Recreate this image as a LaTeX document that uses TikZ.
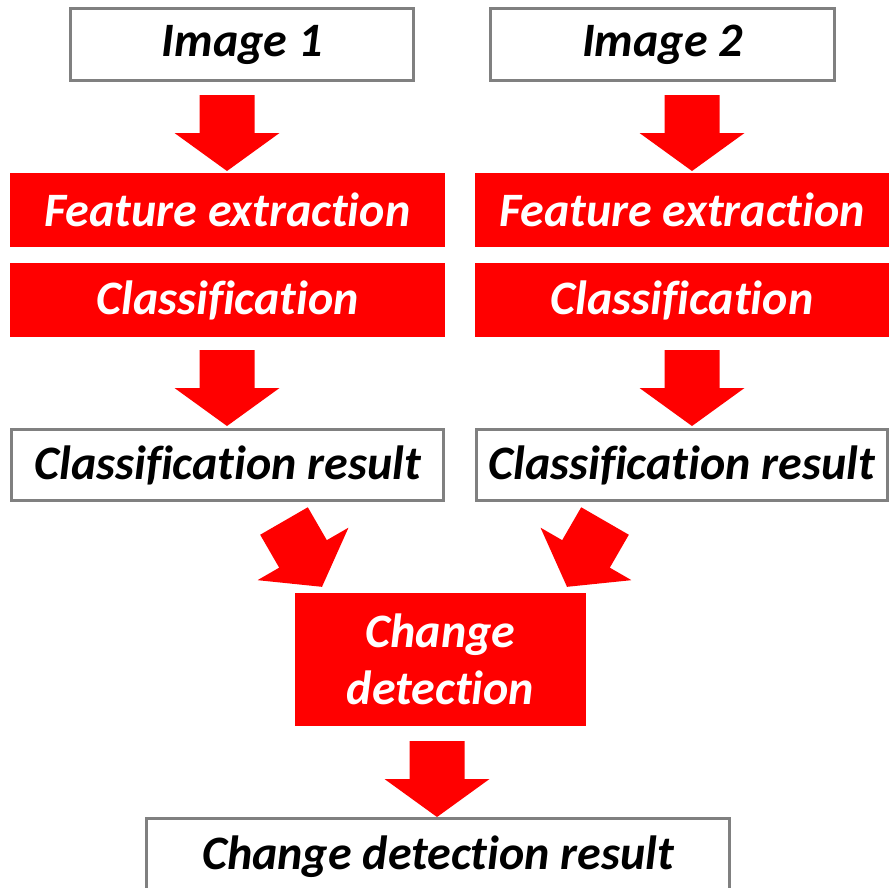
\documentclass[tikz,border=0pt]{standalone}
\usepackage{fontspec}
\setmainfont{Carlito}[Ligatures={NoCommon,NoRare,NoContextual}]
\definecolor{boxgray}{HTML}{808080}
\definecolor{arrowred}{HTML}{FF0000}
\begin{document}
\begin{tikzpicture}[x=1pt,y=-1pt,
  base/.style={inner sep=0pt, outer sep=0pt, align=center,
    font=\fontsize{48}{57}\selectfont\bfseries\itshape},
  wbox/.style={base, draw=boxgray, line width=3pt, fill=white, text=black},
  rbox/.style={base, fill=arrowred, text=white},
  blockarrow/.pic={\fill[arrowred] (-27.5,0) -- (27.5,0) -- (27.5,38) -- (52.5,38) -- (0,76) -- (-52.5,38) -- (-27.5,38) -- cycle;}
]
\useasboundingbox (0,0) rectangle (889,887);
\clip (0,0) rectangle (889,887);

% top image boxes
\node[wbox, minimum width=343, minimum height=72] (img1) at (242,44.5) {Image 1};
\node[wbox, minimum width=344, minimum height=72] (img2) at (662.5,44.5) {Image 2};

% feature extraction
\node[rbox, minimum width=435, minimum height=74] (fe1) at (227.5,210) {Feature extraction};
\node[rbox, minimum width=414, minimum height=74] (fe2) at (682,210) {Feature extraction};

% classification
\node[rbox, minimum width=435, minimum height=74] (cl1) at (227.5,300) {Classification};
\node[rbox, minimum width=414, minimum height=74] (cl2) at (682,300) {Classification};

% classification results
\node[wbox, minimum width=432, minimum height=71] (cr1) at (227.5,465) {Classification result};
\node[wbox, minimum width=411, minimum height=71] (cr2) at (681.5,465) {Classification result};

% change detection
\node[rbox, minimum width=291, minimum height=133] (cd) at (440.5,659.5) {Change\\detection};

% change detection result
\node[wbox, minimum width=583, minimum height=78] (cdr) at (438,857) {Change detection result};

% block arrows
\pic at (227,95) {blockarrow};
\pic at (692,95) {blockarrow};
\pic at (227,350) {blockarrow};
\pic at (692,350) {blockarrow};
\pic[rotate=30] at (284,521) {blockarrow};
\pic[rotate=-30] at (605,521) {blockarrow};
\pic at (437,741) {blockarrow};
\end{tikzpicture}
\end{document}
